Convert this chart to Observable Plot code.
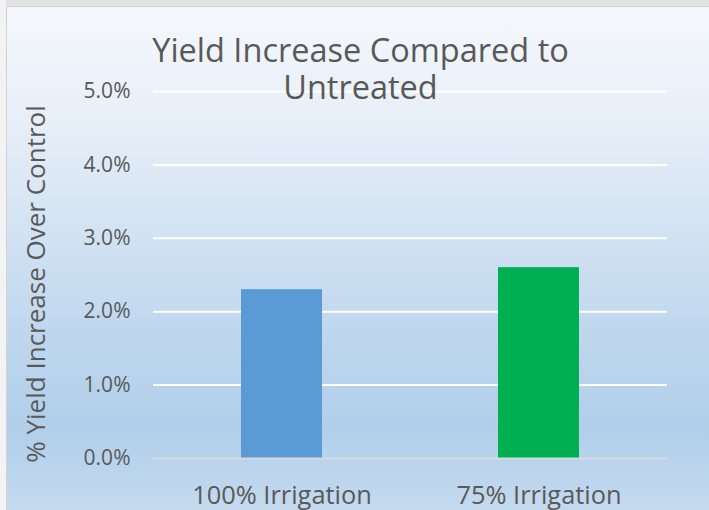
<!DOCTYPE html>
<html>
<head>
<meta charset="utf-8">
<script src="https://cdn.jsdelivr.net/npm/d3@7"></script>
<script src="https://cdn.jsdelivr.net/npm/@observablehq/plot@0.6"></script>
<style>
  html, body { margin: 0; padding: 0; background: #f3f3f3; }
  #wrap { position: relative; width: 709px; height: 510px; overflow: hidden; }
  #wrap svg { display: block; }
  .deco { position: absolute; pointer-events: none; }
</style>
</head>
<body>
<div id="wrap"></div>
<script>
const categories = ["100% Irrigation", "75% Irrigation"];
const values = [0.023, 0.026];
const barColors = ["#5B9BD5", "#00B050"];
const yTicks = [0, 0.01, 0.02, 0.03, 0.04, 0.05];
const titleText = "Yield Increase Compared to\nUntreated";
const yLabel = "% Yield Increase Over Control";

const data = categories.map((c, i) => ({category: c, value: values[i], color: barColors[i]}));
const font = "'Open Sans', sans-serif";

const chart = Plot.plot({
  width: 709,
  height: 510,
  marginLeft: 153,
  marginRight: 42,
  marginTop: 91,
  marginBottom: 52,
  style: {
    fontFamily: font, color: "#595959", overflow: "visible",
    background: "linear-gradient(to bottom, #f6f9fd 0%, #e6eef8 25%, #d3e3f3 45%, #bfd7ee 65%, #b1cfea 84%, #c4daef 100%)"
  },
  x: {domain: categories, paddingInner: 0.685, paddingOuter: 0.3425, label: null, axis: null},
  y: {domain: [0, 0.05], axis: null},
  marks: [
    Plot.ruleY(yTicks.filter(d => d > 0), {stroke: "#ffffff", strokeWidth: 2}),
    Plot.barY(data, {x: "category", y: "value", fill: "color"}),
    Plot.ruleY([0], {stroke: "#d9d9d9", strokeWidth: 2}),
    Plot.text(yTicks, {
      y: d => d, frameAnchor: "left", textAnchor: "end", dx: -23,
      text: d => d3.format(".1%")(d), fontSize: 21, fill: "#595959"
    }),
    Plot.text(categories, {
      x: d => d, frameAnchor: "bottom", dy: 45, text: d => d,
      fontSize: 25.4, fill: "#595959", lineAnchor: "bottom"
    }),
    Plot.text([titleText], {
      frameAnchor: "top-left", dx: 207, dy: -55, text: d => d, textAnchor: "middle",
      lineAnchor: "top", lineHeight: 1.12, fontSize: 32.5, fill: "#595959"
    }),
    Plot.text([yLabel], {
      frameAnchor: "left", textAnchor: "middle", dx: -117, dy: 9, rotate: -90, text: d => d,
      fontSize: 26, fill: "#595959"
    })
  ]
});

const wrap = document.getElementById("wrap");
wrap.appendChild(chart);
const decos = [
  {l: 0, t: 0, w: 709, h: 6, c: "#e4e4e4"},
  {l: 0, t: 0, w: 6, h: 510, c: "#f3f3f3"},
  {l: 6, t: 6, w: 703, h: 1, c: "#d2d2d2"},
  {l: 6, t: 6, w: 1, h: 504, c: "#d2d2d2"}
];
for (const d of decos) {
  const el = document.createElement("div");
  el.className = "deco";
  Object.assign(el.style, {left: d.l + "px", top: d.t + "px", width: d.w + "px", height: d.h + "px", background: d.c});
  wrap.appendChild(el);
}
</script>
</body>
</html>
